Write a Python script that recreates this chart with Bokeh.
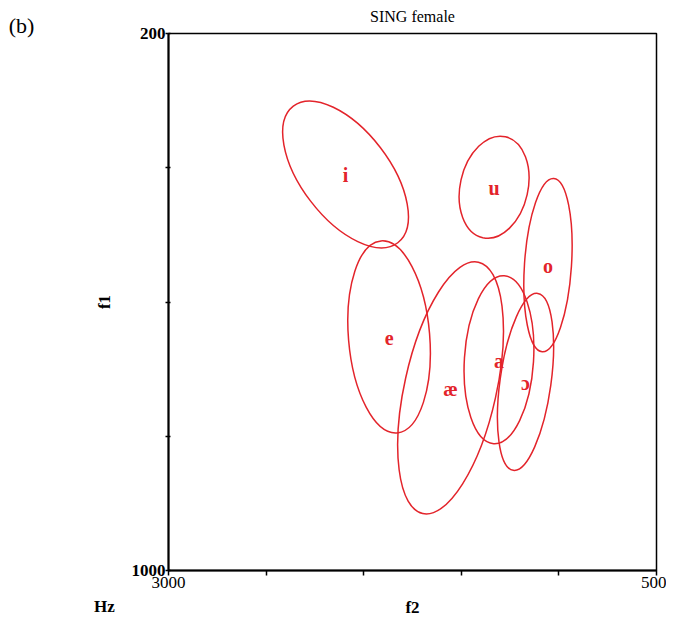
from bokeh.plotting import figure
from bokeh.models import Range1d, FixedTicker, Label, ColumnDataSource
from bokeh.embed import file_html
from bokeh.resources import INLINE
from bokeh.core.properties import value

# vowel categories and ellipse parameters (f2/f1 in Hz)
vowels = ["i", "u", "o", "e", "æ", "a", "ɔ"]
f2_center = [2093, 1332, 1056, 1870, 1555, 1307, 1171]
f1_center = [410, 429, 545, 652, 728, 686, 719]
f2_spread = [881, 530, 890, 987, 1319, 862, 915]
f1_spread = [131, 101, 70, 121, 137, 103, 76]
tilt_deg = [-52.6, 77.4, 86.2, -85.2, 77.5, 86.4, 82.1]

x_ticks = [3000, 2500, 2000, 1500, 1000, 500]
y_ticks = [200, 400, 600, 800, 1000]

RED = "#e3242b"
SERIF = "Liberation Serif"

src = ColumnDataSource(dict(x=f2_center, y=f1_center, w=f2_spread, h=f1_spread,
                            a=tilt_deg, t=vowels))

p = figure(width=666, height=622, output_backend="svg", toolbar_location=None,
           x_range=Range1d(3000, 500), y_range=Range1d(1000, 200),
           min_border_left=168, min_border_right=10, min_border_top=32, min_border_bottom=52)

p.ellipse(x="x", y="y", width="w", height="h", angle="a", angle_units="deg",
          source=src, fill_color=None, line_color=RED, line_width=1.5)
p.text(x="x", y="y", text="t", source=src, text_color=RED, text_align="center",
       text_baseline="middle", text_font=value(SERIF), text_font_size="20px",
       text_font_style="bold", y_offset=1)

p.grid.visible = False
p.outline_line_color = "black"
p.outline_line_width = 1.5

p.title.text = "SING female"
p.title.align = "center"
p.title.vertical_align = "top"
p.title.text_font = SERIF
p.title.text_font_size = "16px"
p.title.text_font_style = "normal"
p.title.text_color = "black"
p.title.standoff = 14

for ax in (p.xaxis[0], p.yaxis[0]):
    ax.axis_line_width = 2
    ax.axis_line_color = "black"
    ax.major_tick_line_width = 1.5
    ax.major_tick_line_color = "black"
    ax.minor_tick_line_color = None
    ax.major_label_text_font = SERIF
    ax.major_label_text_font_size = "17px"
    ax.major_label_text_color = "black"
    ax.axis_label_text_font = SERIF
    ax.axis_label_text_font_size = "17px"
    ax.axis_label_text_font_style = "bold"
    ax.axis_label_text_color = "black"

p.xaxis.ticker = FixedTicker(ticks=x_ticks)
p.xaxis.major_label_overrides = {t: "" for t in x_ticks[1:-1]}
p.xaxis.major_tick_out = 5
p.xaxis.major_tick_in = 0
p.xaxis.major_label_standoff = 1
p.xaxis.axis_label = "f2"
p.xaxis.axis_label_standoff = 7

p.yaxis.ticker = FixedTicker(ticks=y_ticks)
p.yaxis.major_label_overrides = {t: "" for t in y_ticks[1:-1]}
p.yaxis.major_tick_out = 3
p.yaxis.major_tick_in = 2
p.yaxis.major_label_standoff = 0
p.yaxis.major_label_text_font_style = "bold"
p.yaxis.axis_label = "f1"
p.yaxis.axis_label_standoff = 15

p.add_layout(Label(x=104, y=606, x_units="canvas", y_units="canvas", text="Hz",
                   text_font=SERIF, text_font_size="17px", text_font_style="bold",
                   text_align="center", text_baseline="middle", text_color="black"),
             "left")
p.add_layout(Label(x=21, y=25, x_units="canvas", y_units="canvas", text="(b)",
                   text_font=SERIF, text_font_size="22px", text_color="black",
                   text_align="center", text_baseline="middle"),
             "left")

open("out.html", "w").write(file_html(p, INLINE))
